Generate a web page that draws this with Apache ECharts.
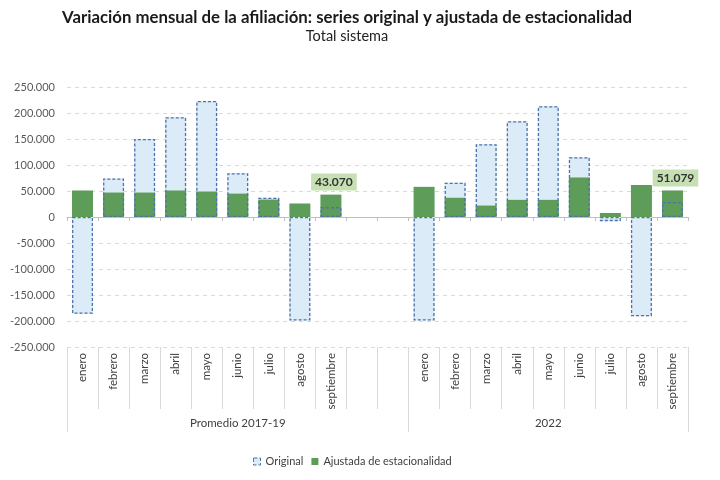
<!DOCTYPE html>
<html>
<head>
<meta charset="utf-8">
<script src="https://cdn.jsdelivr.net/npm/echarts@6/dist/echarts.min.js"></script>
<style>html,body{margin:0;padding:0;background:#fff}#c{width:720px;height:480px}</style>
</head>
<body>
<div id="c"></div>
<script>
var months = ['enero','febrero','marzo','abril','mayo','junio','julio','agosto','septiembre'];
var categories = months.concat(['', ' '], months);
var groupLabels = ['Promedio 2017-19', '2022'];
var original = [-186000, 74000, 150000, 192000, 223000, 84000, 37000, -199000, 19000, null, null,
                -199000, 66000, 140000, 184000, 213000, 115000, -8000, -191000, 29000];
var ajustada = [51000, 47000, 47000, 51000, 49000, 45000, 33500, 26000, 43070, null, null,
                58000, 37000, 22000, 33000, 33000, 76000, 7700, 61500, 51079];
var labelledIdx = [8, 19];
var yTicks = {min: -250000, max: 250000, interval: 50000};

function fmt(v) {
  var s = Math.abs(v).toString().replace(/\B(?=(\d{3})+(?!\d))/g, '.');
  return (v < 0 ? '-' : '') + s;
}

var groupAxisData = categories.map(function (c, i) {
  if (i === 5) return groupLabels[0];
  if (i === 15) return groupLabels[1];
  return '';
});

var FONT = 'Lato, "Open Sans", sans-serif';
var BLUE_FILL = '#DCEBF8', BLUE_BORDER = '#4F72A8', GREEN = '#5E9C5A';

var sadata = ajustada.map(function (v, i) {
  if (labelledIdx.indexOf(i) >= 0) {
    return {value: v, label: {show: true, position: 'top', distance: 4, offset: [3, 0],
      formatter: function (p) { return fmt(p.value); },
      backgroundColor: '#C6E0B4', padding: [3, 4, 2, 4], color: '#333', fontWeight: 'bold',
      fontSize: 12, fontFamily: FONT}};
  }
  return v;
});

var chart = echarts.init(document.getElementById('c'), null, {renderer: 'canvas'});
chart.setOption({
  animation: false,
  textStyle: {fontFamily: FONT},
  title: {
    text: 'Variación mensual de la afiliación: series original y ajustada de estacionalidad',
    subtext: 'Total sistema',
    left: 342, top: 4, textAlign: 'center', itemGap: 3,
    textStyle: {fontSize: 16.8, fontWeight: 'bold', color: '#1a1a1a', fontFamily: FONT},
    subtextStyle: {fontSize: 14.5, color: '#222', fontFamily: FONT}
  },
  legend: {
    left: 248, top: 451, itemWidth: 7, itemHeight: 7, itemGap: 8, icon: 'rect',
    textStyle: {fontSize: 11, color: '#404040', fontFamily: FONT},
    data: [
      {name: 'Original', itemStyle: {color: BLUE_FILL, borderColor: BLUE_BORDER, borderWidth: 1, borderType: 'dashed'}},
      {name: 'Ajustada de estacionalidad'}
    ]
  },
  grid: {left: 67, right: 32, top: 87, bottom: 133, containLabel: false},
  xAxis: [
    {type: 'category', data: categories, position: 'bottom',
     axisLine: {show: true, onZero: true, lineStyle: {color: '#BFBFBF', width: 1}},
     axisTick: {show: true, length: 4, interval: 0, lineStyle: {color: '#BFBFBF'}},
     axisLabel: {show: false}, splitLine: {show: false}},
    {type: 'category', data: categories, position: 'bottom',
     axisLine: {show: false, onZero: false},
     axisTick: {show: true, length: 62, interval: 0, lineStyle: {color: '#D9D9D9'}},
     axisLabel: {show: true, interval: 0, rotate: 90, margin: 6, fontSize: 11.5, color: '#404040', fontFamily: FONT},
     splitLine: {show: false}},
    {type: 'category', data: groupAxisData, position: 'bottom',
     axisLine: {show: false, onZero: false},
     axisTick: {show: true, length: 85, interval: function (i) { return i === 0 || i === 11; }, lineStyle: {color: '#D9D9D9'}},
     axisLabel: {show: true, interval: 0, margin: 70, fontSize: 11.5, color: '#404040', fontFamily: FONT},
     splitLine: {show: false}}
  ],
  yAxis: {
    type: 'value', min: yTicks.min, max: yTicks.max, interval: yTicks.interval,
    axisLine: {show: false}, axisTick: {show: false},
    axisLabel: {formatter: fmt, fontSize: 11, color: '#595959', margin: 12, fontFamily: FONT},
    splitLine: {show: true, lineStyle: {color: '#D9D9D9', type: [4, 4]}}
  },
  series: [
    {name: 'Original', type: 'bar', data: original, barWidth: 21, barGap: '-100%', z: 1,
     itemStyle: {color: BLUE_FILL}},
    {name: 'Ajustada de estacionalidad', type: 'bar', data: sadata, barWidth: 21, barGap: '-100%', z: 2,
     itemStyle: {color: GREEN}},
    {name: 'Original borde', type: 'bar', data: original, barWidth: 21, barGap: '-100%', z: 3,
     itemStyle: {color: 'rgba(0,0,0,0)', borderColor: BLUE_BORDER, borderWidth: 1.3, borderType: [3, 2]},
     tooltip: {show: false}}
  ]
});
</script>
</body>
</html>
